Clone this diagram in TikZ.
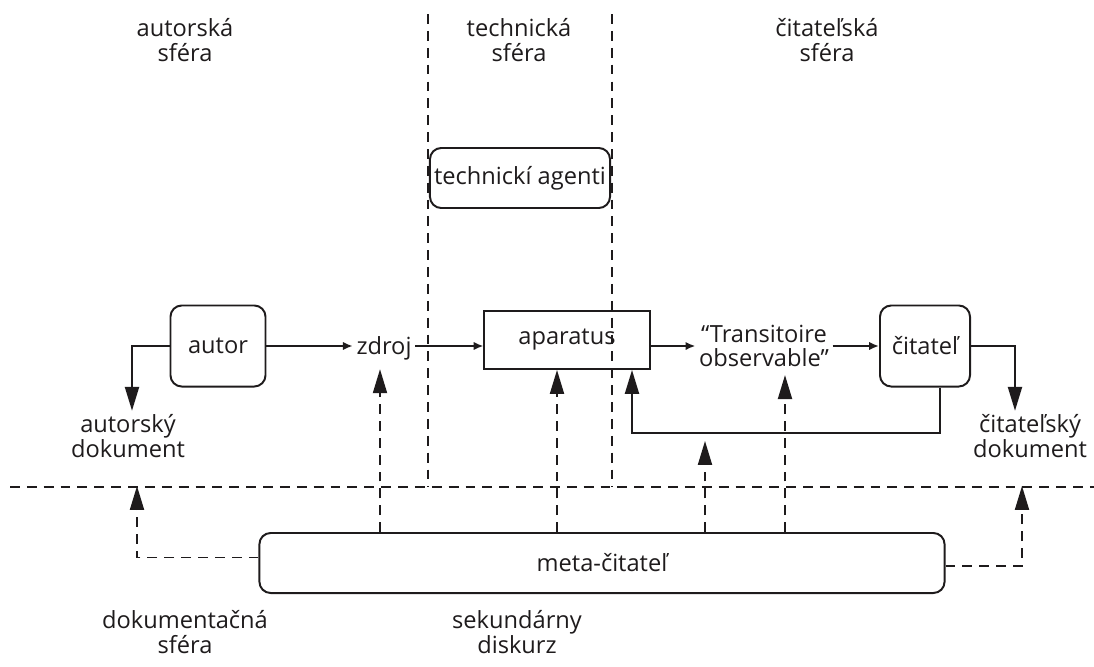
\documentclass[tikz,border=0pt]{standalone}
\usepackage{fontspec}
\setmainfont{Open Sans}
\usetikzlibrary{arrows.meta}
\definecolor{Tinta}{RGB}{30,27,28}

\begin{document}
\begin{tikzpicture}[x=0.025cm,y=-0.025cm,line width=1.4pt,Tinta,
  texto/.style={align=center,font=\fontsize{16.8}{17.5}\selectfont,inner sep=2pt},
  caja/.style={texto,draw,rounded corners=8pt},
  flecha/.style={-{Latex[length=7pt,width=6pt]}},
  flechaG/.style={-{Triangle[length=17pt,width=10pt]}},
  linea/.style={dashed,dash pattern=on 7pt off 5pt,line width=1.2pt}]
  \useasboundingbox (0,0) rectangle (1094,666);
  % esferas
  \draw[linea] (428,14) -- (428,487);
  \draw[linea] (612,14) -- (612,487);
  \draw[linea] (10,487) -- (1094,487);
  \node[texto] (sferaA) at (185,40) {autorská\\sféra};
  \node[texto] (sferaT) at (519,40) {technická\\sféra};
  \node[texto] (sferaC) at (827,40) {čitateľská\\sféra};
  \node[texto] (sferaD) at (185,632) {dokumentačná\\sféra};
  \node[texto] (diskurz) at (517,632) {sekundárny\\diskurz};
  % uzly
  \node[caja,minimum width=4.5cm,minimum height=1.5cm] (agenti) at (520,178) {technickí agenti};
  \node[caja,minimum width=2.375cm,minimum height=2.025cm] (autor) at (218,346) {autor};
  \node[texto] (zdroj) at (384,348) {zdroj};
  \node[texto,draw,minimum width=4.125cm,minimum height=1.45cm] (aparatus) at (567,340) {aparatus};
  \node[texto] (trans) at (764,346) {“Transitoire\\observable”};
  \node[caja,minimum width=2.25cm,minimum height=2.025cm] (citatel) at (925,346) {čitateľ};
  \node[texto] (autdok) at (128,436) {autorský\\dokument};
  \node[texto] (citdok) at (1030,436) {čitateľský\\dokument};
  \node[caja,minimum width=17.125cm,minimum height=1.5cm] (meta) at (602,563) {meta-čitateľ};
  % body
  \coordinate (h) at (0,346);
  \coordinate (p1) at (380,0);
  \coordinate (p2) at (557,0);
  \coordinate (p3) at (705,441);
  \coordinate (p4) at (785,0);
  \coordinate (r1) at (940,433);
  \coordinate (r2) at (632,433);
  \coordinate (l1) at (137,486);
  \coordinate (l2) at (1022,486);
  % tok
  \draw[flecha] (autor.east |- h) -- (zdroj.west |- h);
  \draw[flecha] (zdroj.east |- h) -- (aparatus.west |- h);
  \draw[flecha] (aparatus.east |- h) -- (trans.west |- h);
  \draw[flecha] (trans.east |- h) -- (citatel.west |- h);
  \draw[flechaG] (autor.west) -| (autdok.north -| 132,0);
  \draw[flechaG] (citatel.east) -| (citdok.north -| 1015,0);
  \draw[flechaG] (citatel.south -| r1) |- (r2) -- (aparatus.south -| r2);
  % meta
  \draw[linea,flechaG] (meta.north -| p1) -- ([yshift=-4pt]zdroj.south -| p1);
  \draw[linea,flechaG] (meta.north -| p2) -- (aparatus.south -| p2);
  \draw[linea,flechaG] (meta.north -| p3) -- (p3);
  \draw[linea,flechaG] (meta.north -| p4) -- ([yshift=-3pt]trans.south -| p4);
  \draw[linea,flechaG] ([yshift=4pt]meta.west) -| (l1);
  \draw[linea,flechaG] ([yshift=-2pt]meta.east) -| (l2);
\end{tikzpicture}
\end{document}
